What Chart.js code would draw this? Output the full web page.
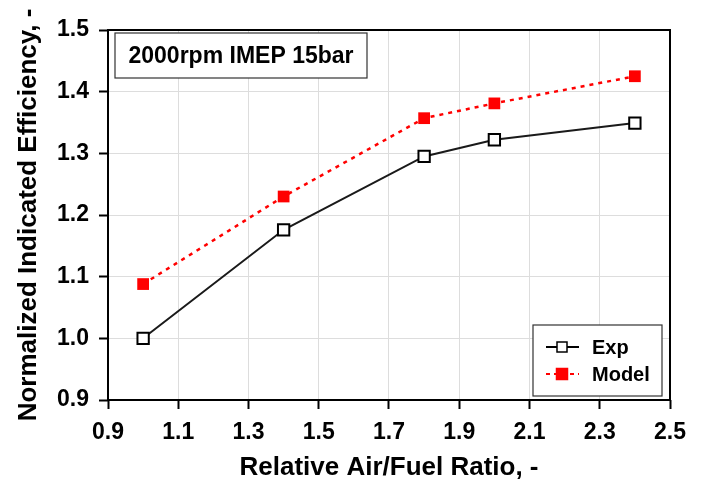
<!DOCTYPE html>
<html>
<head>
<meta charset="utf-8">
<script src="https://cdn.jsdelivr.net/npm/chart.js@4/dist/chart.umd.min.js"></script>
<style>
  html, body { margin: 0; padding: 0; background: #fff; }
  #wrap { width: 703px; height: 487px; }
</style>
</head>
<body>
<div id="wrap"><canvas id="c" width="703" height="487"></canvas></div>
<script>
// Relative air/fuel ratio (lambda) and normalized indicated efficiency
const lambdaValues = [1.0, 1.4, 1.8, 2.0, 2.4];
const expEfficiency = [1.000, 1.176, 1.295, 1.322, 1.349];
const modelEfficiency = [1.088, 1.230, 1.357, 1.381, 1.425];
const xTickValues = [0.9, 1.1, 1.3, 1.5, 1.7, 1.9, 2.1, 2.3, 2.5];
const yTickValues = [0.9, 1.0, 1.1, 1.2, 1.3, 1.4, 1.5];
const conditionLabel = '2000rpm IMEP 15bar';
const seriesNames = ['Exp', 'Model'];

const FONT = 'Liberation Sans, Arial, Helvetica, sans-serif';

const toPoints = (xs, ys) => xs.map((x, i) => ({ x, y: ys[i] }));

// Frame, condition label and legend drawn on the canvas
const decorations = {
  id: 'decorations',
  afterDraw(chart) {
    const { ctx, chartArea: a } = chart;
    ctx.save();
    // plot frame
    ctx.strokeStyle = '#000';
    ctx.lineWidth = 2;
    ctx.strokeRect(a.left, a.top, a.right - a.left, a.bottom - a.top);

    // condition label box
    ctx.lineWidth = 1.2;
    ctx.strokeStyle = '#333';
    ctx.fillStyle = '#fff';
    const bx = a.left + 7, by = a.top + 3, bw = 252, bh = 45;
    ctx.fillRect(bx, by, bw, bh);
    ctx.strokeRect(bx, by, bw, bh);
    ctx.fillStyle = '#000';
    ctx.font = 'bold 23px ' + FONT;
    ctx.textAlign = 'center';
    ctx.textBaseline = 'middle';
    ctx.fillText(conditionLabel, bx + bw / 2, by + bh / 2 + 1);

    // legend box
    const lw = 129, lh = 71;
    const lx = a.right - 8 - lw, ly = a.bottom - 4 - lh;
    ctx.fillStyle = '#fff';
    ctx.fillRect(lx, ly, lw, lh);
    ctx.strokeStyle = '#333';
    ctx.strokeRect(lx, ly, lw, lh);
    const rows = [
      { name: seriesNames[0], y: ly + 22, color: '#000', dash: [], fill: '#fff', size: 10 },
      { name: seriesNames[1], y: ly + 49, color: '#ff0000', dash: [4, 4], fill: '#ff0000', size: 11 }
    ];
    rows.forEach(r => {
      ctx.beginPath();
      ctx.setLineDash(r.dash);
      ctx.strokeStyle = r.color;
      ctx.lineWidth = 2;
      ctx.moveTo(lx + 13, r.y);
      ctx.lineTo(lx + 46, r.y);
      ctx.stroke();
      ctx.setLineDash([]);
      const h = r.size / 2;
      ctx.fillStyle = r.fill;
      ctx.fillRect(lx + 29 - h, r.y - h, r.size, r.size);
      ctx.lineWidth = 1.5;
      ctx.strokeStyle = r.color;
      ctx.strokeRect(lx + 29 - h, r.y - h, r.size, r.size);
      ctx.fillStyle = '#000';
      ctx.font = 'bold 20px ' + FONT;
      ctx.textAlign = 'left';
      ctx.textBaseline = 'middle';
      ctx.fillText(r.name, lx + 59, r.y + 1);
    });
    ctx.restore();
  }
};

new Chart(document.getElementById('c'), {
  type: 'scatter',
  data: {
    datasets: [
      {
        label: seriesNames[0],
        data: toPoints(lambdaValues, expEfficiency),
        showLine: true,
        borderColor: '#1a1a1a',
        borderWidth: 2,
        pointStyle: 'rect',
        pointRadius: 8,
        pointBorderWidth: 2,
        pointBackgroundColor: '#fff',
        pointBorderColor: '#000',
        order: 2
      },
      {
        label: seriesNames[1],
        data: toPoints(lambdaValues, modelEfficiency),
        showLine: true,
        borderColor: '#ff0000',
        borderWidth: 2.5,
        borderDash: [4, 5],
        pointStyle: 'rect',
        pointRadius: 8.3,
        pointBorderWidth: 0,
        pointBackgroundColor: '#ff0000',
        pointBorderColor: '#ff0000',
        order: 1
      }
    ]
  },
  options: {
    responsive: false,
    animation: false,
    layout: { padding: { top: 30, right: 33, left: 0, bottom: 0 } },
    plugins: { legend: { display: false }, tooltip: { enabled: false } },
    scales: {
      x: {
        type: 'linear',
        min: 0.9,
        max: 2.5,
        afterBuildTicks: s => { s.ticks = xTickValues.map(v => ({ value: v })); },
        afterFit: s => { s.height = 87; },
        grid: { color: '#dddddd', lineWidth: 1, tickLength: 9, tickColor: '#000', tickWidth: 2 },
        border: { display: false },
        ticks: {
          color: '#000',
          font: { family: FONT, size: 23, weight: 'bold' },
          padding: 10,
          maxRotation: 0,
          callback: v => Number(v).toFixed(1)
        },
        title: {
          display: true,
          text: 'Relative Air/Fuel Ratio, -',
          color: '#000',
          font: { family: FONT, size: 26, weight: 'bold' },
          padding: { top: 0, bottom: 4 }
        }
      },
      y: {
        type: 'linear',
        min: 0.9,
        max: 1.5,
        afterBuildTicks: s => { s.ticks = yTickValues.map(v => ({ value: v })); },
        afterFit: s => { s.width = 108; },
        grid: { color: '#dddddd', lineWidth: 1, tickLength: 9, tickColor: '#000', tickWidth: 2 },
        border: { display: false },
        ticks: {
          color: '#000',
          font: { family: FONT, size: 23, weight: 'bold' },
          padding: 10,
          callback: v => Number(v).toFixed(1)
        },
        title: {
          display: true,
          text: 'Normalized Indicated Efficiency, -',
          color: '#000',
          font: { family: FONT, size: 26, weight: 'bold' },
          padding: { top: 13, bottom: 0 }
        }
      }
    }
  },
  plugins: [decorations]
});
</script>
</body>
</html>
